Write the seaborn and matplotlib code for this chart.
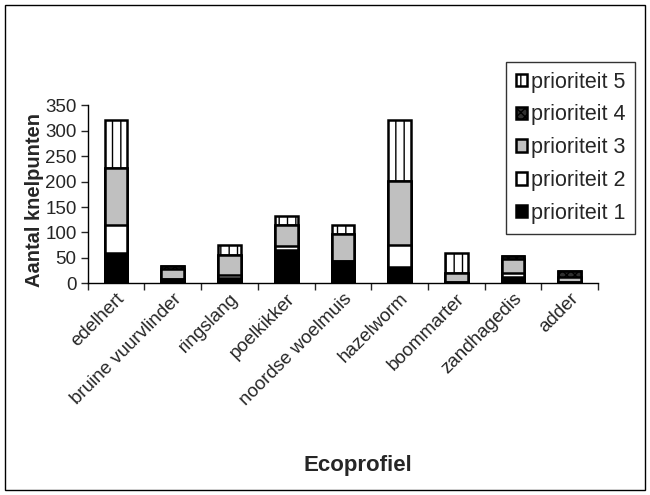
import numpy as np
import pandas as pd
import matplotlib
matplotlib.use("Agg")
import matplotlib.pyplot as plt
from matplotlib.patches import Patch, Rectangle
import seaborn as sns

categories = ["edelhert", "bruine vuurvlinder", "ringslang", "poelkikker",
              "noordse woelmuis", "hazelworm", "boommarter", "zandhagedis", "adder"]
prioriteit1 = [60, 9, 11, 66, 43, 32, 2, 12, 3]
prioriteit2 = [54, 0, 6, 8, 0, 44, 0, 9, 0]
prioriteit3 = [113, 19, 38, 41, 54, 125, 18, 27, 9]
prioriteit4 = [0, 6, 0, 0, 0, 0, 0, 6, 12]
prioriteit5 = [94, 0, 21, 17, 18, 121, 40, 0, 0]
series_names = ["prioriteit 1", "prioriteit 2", "prioriteit 3", "prioriteit 4", "prioriteit 5"]
yticks = [0, 50, 100, 150, 200, 250, 300, 350]

sns.set_style("white")
plt.rcParams["font.family"] = ["Liberation Sans", "DejaVu Sans"]
plt.rcParams["hatch.linewidth"] = 1.0

FS = 13.5
fig = plt.figure(figsize=(6.5, 4.95), dpi=100)
ax = fig.add_axes([0.135, 0.4277, 0.785, 0.3595])

series = [prioriteit1, prioriteit2, prioriteit3, prioriteit4, prioriteit5]
styles = [
    dict(color="black", hatch=None),
    dict(color="white", hatch=None),
    dict(color="#c0c0c0", hatch=None),
    dict(color="#303030", hatch="xxxx"),
    dict(color="white", hatch="||"),
]
cum = np.cumsum(np.array(series, dtype=float), axis=0)

for i in range(4, -1, -1):
    df = pd.DataFrame({"cat": categories, "val": cum[i]})
    kw = dict(edgecolor="black", linewidth=1.8, width=0.4)
    if styles[i]["hatch"]:
        kw["hatch"] = styles[i]["hatch"]
    sns.barplot(data=df, x="cat", y="val", order=categories, color=styles[i]["color"],
                saturation=1, ax=ax, **kw)

ax.set_ylim(0, 350)
ax.set_xlim(-0.5, len(categories) - 0.5)
ax.set_yticks(yticks)
ax.set_yticklabels([str(t) for t in yticks], fontsize=FS)
ax.set_xticks(range(len(categories)))
ax.set_xticklabels(categories, rotation=45, ha="right", rotation_mode="anchor", fontsize=FS)
ax.tick_params(axis="x", length=0, pad=5)
ax.tick_params(axis="y", length=5, width=1, direction="out", left=True, pad=3)
ax.set_xticks(np.arange(-0.5, len(categories), 1.0), minor=True)
ax.tick_params(axis="x", which="minor", length=5, width=1, direction="out", bottom=True)

for s in ["top", "right"]:
    ax.spines[s].set_visible(False)
for s in ["left", "bottom"]:
    ax.spines[s].set_color("black")
    ax.spines[s].set_linewidth(1)

ax.set_xlabel("Ecoprofiel", fontsize=16, fontweight="bold")
ax.set_ylabel("Aantal knelpunten", fontsize=14.5, fontweight="bold")
ax.xaxis.set_label_coords(0.53, -0.965)
ax.yaxis.set_label_coords(-0.086, 0.47)

handles = []
for i in range(4, -1, -1):
    handles.append(Patch(facecolor=styles[i]["color"], edgecolor="black", linewidth=1.8,
                         hatch=styles[i]["hatch"], label=series_names[i]))
leg = fig.legend(handles=handles, loc="upper right", bbox_to_anchor=(0.977, 0.875),
                 fontsize=15.5, frameon=True, fancybox=False, handlelength=0.5,
                 handleheight=0.5, handletextpad=0.2, labelspacing=0.55,
                 borderpad=0.45, borderaxespad=0)
leg.get_frame().set_edgecolor("black")
leg.get_frame().set_linewidth(1)

fig.patches.append(Rectangle((0.008, 0.01), 0.984, 0.98, transform=fig.transFigure,
                             fill=False, edgecolor="black", linewidth=1))

fig.savefig("out.png", dpi=100)
